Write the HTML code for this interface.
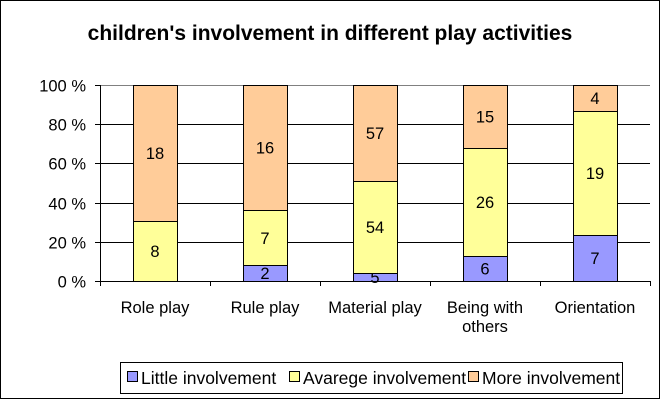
<!DOCTYPE html>
<html><head><meta charset="utf-8"><style>
html,body{margin:0;padding:0;background:#fff}
svg{display:block;font-family:"Liberation Sans",Arial,sans-serif}
</style></head><body>
<svg id="chart" width="661" height="400" viewBox="0 0 661 400">
<rect x="0.5" y="0.5" width="659" height="398" fill="#fff" stroke="#000"/>
<text x="330" y="40" text-anchor="middle" font-size="21" font-weight="bold">children's involvement in different play activities</text>
<g id="grid"></g><g id="bars"></g><g id="axes"></g>
<g>
<rect x="120.5" y="362.5" width="502" height="31" fill="#fff" stroke="#000"/>
<g id="legend"></g>
</g>
</svg>
<script>
const categories = [["Role play"],["Rule play"],["Material play"],["Being with","others"],["Orientation"]];
const little = [0,2,5,6,7];
const average = [8,7,54,26,19];
const more = [18,16,57,15,4];
const yTicks = [0,20,40,60,80,100];
const seriesNames = ["Little involvement","Avarege involvement","More involvement"];
const colors = ["#9999ff","#ffff99","#ffcc99"];
const NS="http://www.w3.org/2000/svg";
const L=100,R=650,T=85,B=281;
const band=(R-L)/categories.length;
const y=p=>B-(B-T)*p/100;
function mk(tag,attrs,parent){const e=document.createElementNS(NS,tag);for(const k in attrs)e.setAttribute(k,attrs[k]);parent.appendChild(e);return e;}
const grid=document.getElementById('grid'),bars=document.getElementById('bars'),axes=document.getElementById('axes'),leg=document.getElementById('legend');
yTicks.forEach(t=>{
  const yy=Math.round(y(t))+0.5;
  const g=mk('line',{x1:L,x2:R,y1:yy,y2:yy,stroke:t===100?'#808080':'#000'},grid);
  
  
  const tk=mk('line',{x1:L-5,x2:L,y1:yy,y2:yy,stroke:'#000'},axes);
  
  
  const tx=mk('text',{x:L-14,y:yy+6,'text-anchor':'end','font-size':'16.5'},axes);
  tx.textContent=t+' %';
  
  
});
const series=[little,average,more];
categories.forEach((c,i)=>{
  const total=little[i]+average[i]+more[i];
  let cum=0;
  const x0=L+band*i+33;
  series.forEach((s,k)=>{
    const v=s[i]; if(!v)return;
    const y1=y((cum+v)/total*100), y0=y(cum/total*100);
    cum+=v;
    const r=mk('rect',{x:x0+0.5,y:Math.round(y1)+0.5,width:44,height:Math.round(y0)-Math.round(y1),fill:colors[k],stroke:'#000'},bars);
    
    
    const t=mk('text',{x:x0+22,y:(y0+y1)/2+6,'text-anchor':'middle','font-size':'16.5'},bars);
    t.textContent=v;
    
    
  });
  const lbl=mk('text',{x:L+band*i+band/2,y:313,'text-anchor':'middle','font-size':'16.5'},axes);
  
  
  c.forEach((ln,j)=>{const ts=mk('tspan',{x:L+band*i+band/2,dy:j?19:0},lbl);ts.textContent=ln;});
});
for(let i=0;i<=categories.length;i++){
  const xx=Math.round(L+band*i)+0.5;
  const tk=mk('line',{x1:xx,x2:xx,y1:B,y2:B+5,stroke:'#000'},axes);
  
  
}
const ya=mk('line',{x1:L+0.5,x2:L+0.5,y1:T,y2:B+0.5,stroke:'#000'},axes);


const lx=[127,289,468];
seriesNames.forEach((n,k)=>{
  const r=mk('rect',{x:lx[k]+0.5,y:371.5,width:10,height:10,fill:colors[k],stroke:'#000'},leg);
  
  
  const t=mk('text',{x:lx[k]+14,y:384,'font-size':'17.5'},leg);
  t.textContent=n;
  
  
});
</script>
</body></html>
